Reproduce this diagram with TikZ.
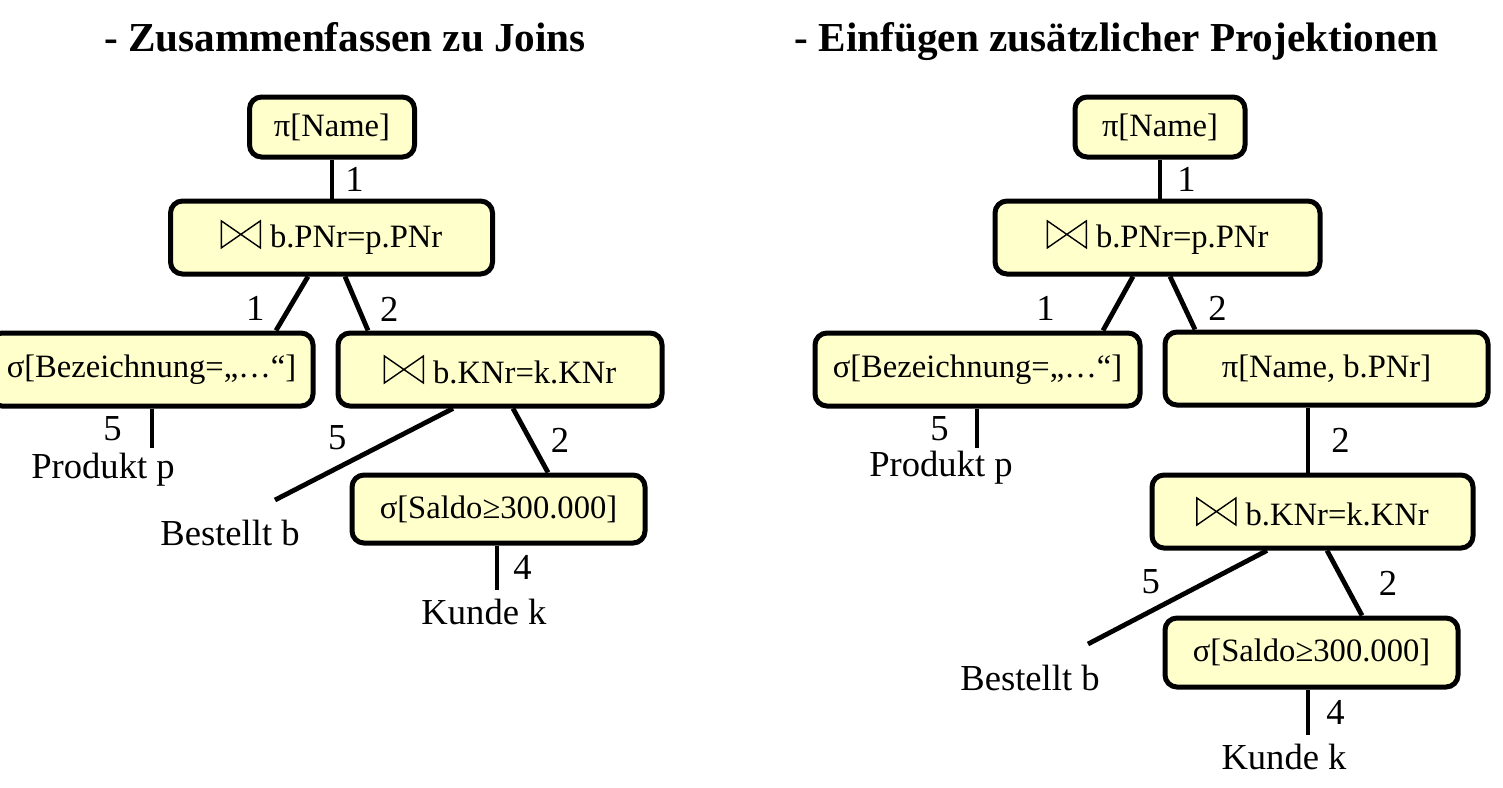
\documentclass[tikz,border=0pt]{standalone}
\usepackage{amssymb}
\usepackage{fontspec}
\setmainfont{Liberation Serif}
\usetikzlibrary{positioning}

\definecolor{boxfill}{RGB}{255,255,204}
\newcommand{\bt}{\tikz[baseline=0pt,line width=0.7pt,sharp corners,line join=miter]
  \draw (0,0) -- (0,13.5pt) -- (19.5pt,0) -- (19.5pt,13.5pt) -- cycle;\hspace{4.5pt}}
\newcommand{\bodyfont}{\fontsize{18.3pt}{22pt}\selectfont}
\newcommand{\opfont}{\fontsize{16.3pt}{19pt}\selectfont}
\newcommand{\headfont}{\fontsize{20.6pt}{24pt}\selectfont\bfseries}

\tikzset{
  opbox/.style={draw, line width=2.5pt, rounded corners=6pt, fill=boxfill,
    inner sep=0pt, minimum height=36.5pt, font=\opfont},
  leaf/.style={inner sep=0pt, font=\bodyfont},
  num/.style={inner sep=2pt, font=\bodyfont},
  link/.style={line width=2.4pt},
  head/.style={font=\headfont, anchor=base},
}

\begin{document}
\begin{tikzpicture}[x=0.5pt,y=-0.5pt]
    \useasboundingbox (0,0) rectangle (1503,787);

    % Zusammenfassen zu Joins
    \node[head] (lhead) at (345,51) {- Zusammenfassen zu Joins};
    \node[opbox,minimum width=82.5pt,minimum height=30pt] (lpn) at (332,127) {π[Name]};
    \node[opbox,minimum width=161pt] (lj1) at (331.5,237.5) {\bt b.PNr=p.PNr};
    \node[opbox,minimum width=161.5pt] (lsb) at (151.5,369.5) {σ[Bezeichnung=„…“]};
    \node[opbox,minimum width=162pt] (lj2) at (500,369.5) {\bt b.KNr=k.KNr};
    \node[opbox,minimum width=146.5pt,minimum height=34pt] (lss) at (498.5,509) {σ[Saldo≥300.000]};

    \coordinate (lprodend) at (152,448);
    \coordinate (lbestend) at (275,500);
    \coordinate (lkundeend) at (497,590);
    \node[leaf] (lprod) at (103,470) {Produkt p};
    \node[leaf] (lbest) at (230,533) {Bestellt b};
    \node[leaf] (lkunde) at (484,612) {Kunde k};

    \path[link]
        (lpn.south) edge node[num,right=3.5pt] {1} (lpn.south |- lj1.north)
        ([xshift=-11.75pt]lj1.south) edge node[num,pos=.6,left=9pt] {1} ([xshift=62.25pt]lsb.north)
        ([xshift=6.75pt]lj1.south) edge node[num,pos=.6,right=7.5pt] {2} ([xshift=-66pt]lj2.north)
        (lsb.south -| lprodend) edge node[num,left=12pt] {5} (lprodend)
        ([xshift=-23.5pt]lj2.south) edge node[num,pos=.65,above=6pt] {5} (lbestend)
        ([xshift=6.5pt]lj2.south) edge node[num,right=7pt] {2} ([xshift=24.75pt]lss.north)
        (lss.south -| lkundeend) edge node[num,right=5pt] {4} (lkundeend);

    % Einfuegen zusaetzlicher Projektionen
    \node[head] (rhead) at (1116.5,51) {- Einfügen zusätzlicher Projektionen};
    \node[opbox,minimum width=85pt,minimum height=30pt] (rpn) at (1160,127) {π[Name]};
    \node[opbox,minimum width=162.5pt] (rj1) at (1157.5,237.5) {\bt b.PNr=p.PNr};
    \node[opbox,minimum width=162.5pt] (rsb) at (977.5,369.5) {σ[Bezeichnung=„…“]};
    \node[opbox,minimum width=161.5pt] (rpp) at (1326.5,368.5) {π[Name, b.PNr]};
    \node[opbox,minimum width=160.5pt] (rj2) at (1312.5,511.5) {\bt b.KNr=k.KNr};
    \node[opbox,minimum width=146.5pt,minimum height=34.5pt] (rss) at (1311.5,652.5) {σ[Saldo≥300.000]};

    \coordinate (rprodend) at (977,448);
    \coordinate (rbestend) at (1088,644);
    \coordinate (rkundeend) at (1308,735);
    \node[leaf] (rprod) at (941,468) {Produkt p};
    \node[leaf] (rbest) at (1030,678) {Bestellt b};
    \node[leaf] (rkunde) at (1284,757) {Kunde k};

    \path[link]
        (rpn.south) edge node[num,right=5.5pt] {1} (rpn.south |- rj1.north)
        ([xshift=-12.25pt]rj1.south) edge node[num,pos=.6,left=27pt] {1} ([xshift=62.75pt]rsb.north)
        ([xshift=6.25pt]rj1.south) edge node[num,pos=.6,right=8.5pt] {2} ([xshift=-65.75pt]rpp.north)
        (rsb.south -| rprodend) edge node[num,left=11pt] {5} (rprodend)
        (rpp.south -| rkundeend) edge node[num,right=8.5pt] {2} (rkundeend |- rj2.north)
        ([xshift=-22.75pt]rj2.south) edge node[num,pos=.65,above=5.5pt] {5} (rbestend)
        ([xshift=7.25pt]rj2.south) edge node[num,right=14pt] {2} ([xshift=25.25pt]rss.north)
        (rss.south -| rkundeend) edge node[num,right=6pt] {4} (rkundeend);
\end{tikzpicture}
\end{document}
